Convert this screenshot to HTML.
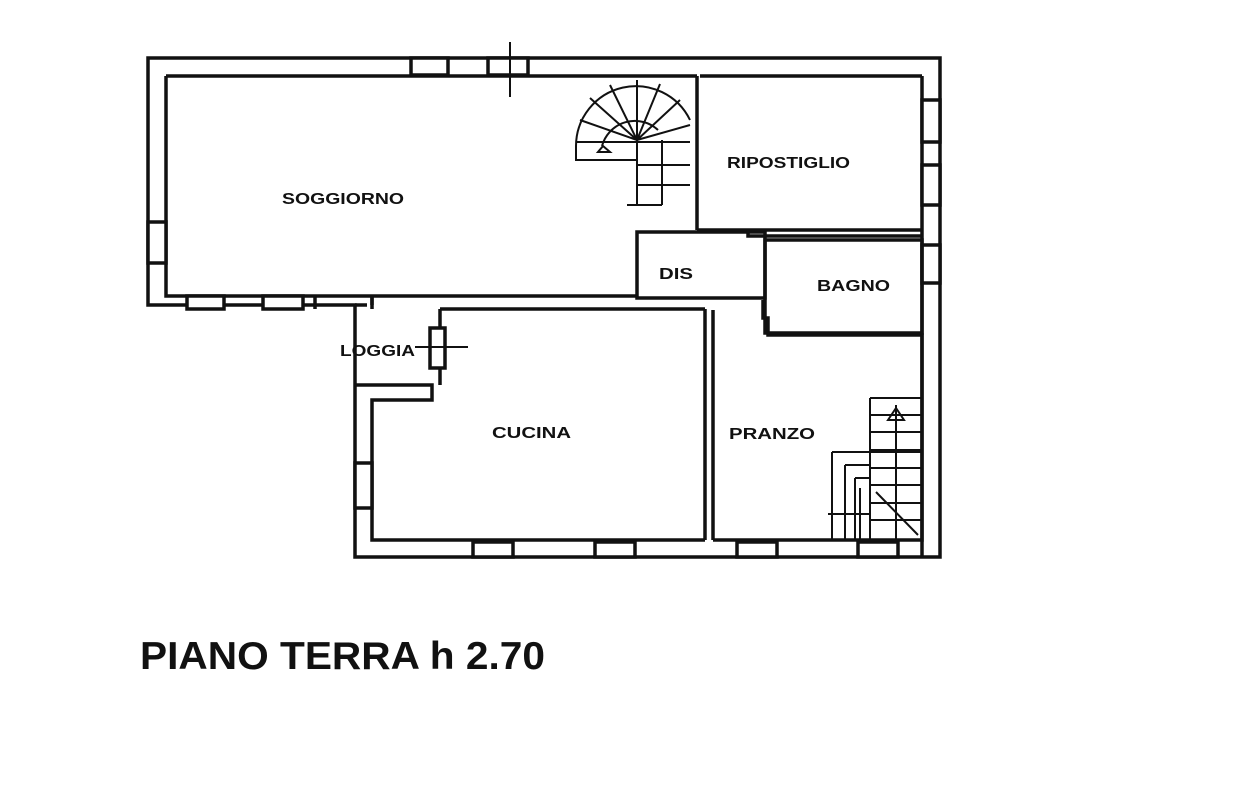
<!DOCTYPE html>
<html><head><meta charset="utf-8"><style>
html,body{margin:0;padding:0;background:#fff;width:1250px;height:796px;overflow:hidden}
svg{position:absolute;left:0;top:0}
text{font-family:"Liberation Sans",sans-serif;font-weight:bold;fill:#111}
</style></head><body>
<svg width="1250" height="796" viewBox="0 0 1250 796" stroke="#111" fill="none" stroke-width="3.5">
<path d="M148 58 H940 V557 H355 V305 H148 Z"/>
<path d="M166 76 H697 M166 76 V296 H637"/>
<path d="M355 305 H367 M372 296 V305"/>
<rect x="411" y="58" width="37" height="17" fill="#fff"/>
<rect x="488" y="58" width="40" height="17" fill="#fff"/>
<path d="M510 42 V97" stroke-width="2"/>
<rect x="148" y="222" width="18" height="41" fill="#fff"/>
<rect x="187" y="296" width="37" height="13" fill="#fff"/>
<rect x="263" y="296" width="40" height="13" fill="#fff"/>
<path d="M315 296 V309 M372 296 V309"/>
<path d="M355 385 H432 V400 H372 V540 H705 M440 309 H705 M440 309 V385"/>
<rect x="430" y="328" width="15" height="40" fill="#fff"/>
<path d="M415 347 H468" stroke-width="2"/>
<rect x="355" y="463" width="17" height="45" fill="#fff"/>
<path d="M705 309 V540 M713 310 V540"/>
<rect x="473" y="542" width="40" height="15" fill="#fff"/>
<rect x="595" y="542" width="40" height="15" fill="#fff"/>
<rect x="737" y="542" width="40" height="15" fill="#fff"/>
<rect x="858" y="542" width="40" height="15" fill="#fff"/>
<path d="M713 540 H922 V335 H768 V318 H763 V300"/>
<path d="M637 232 H765 V298 H637 Z"/>
<path d="M697 76 V230 M697 230 H922 M922 76 V557"/>
<path d="M700 76 H922 M748 230 V236 H922"/>
<rect x="922" y="100" width="18" height="42" fill="#fff"/>
<rect x="922" y="165" width="18" height="40" fill="#fff"/>
<rect x="922" y="245" width="18" height="38" fill="#fff"/>
<rect x="765" y="240" width="157" height="93"/>
<g stroke-width="2">
<path d="M576 146 A60 60 0 0 1 690 120 M602 146 A34 34 0 0 1 658 130 M576 146 V160 H637 M576 142 H690 M637 140 V205 M637 165 H690 M637 185 H690 M627 205 H662 M662 140 V205"/>
<path d="M637 140 L580 120 M637 140 L590 98 M637 140 L610 85 M637 140 L637 80 M637 140 L660 84 M637 140 L680 100 M637 140 L690 125"/>
<path d="M603 146 L610 152 L598 152 Z"/>
</g>
<g stroke-width="2">
<path d="M870 398 H922 M870 398 V540 M870 415 H922 M870 432 H922 M870 450 H922 M870 468 H922 M870 485 H922 M870 503 H922 M870 520 H922 M896 405 V540"/>
<path d="M832 452 H922 M845 465 V540 M855 478 V540 M860 488 V540 M832 452 V540 M845 465 H870 M855 478 H870 M828 514 H870 M876 492 L918 535"/>
<path d="M888 420 L896 408 L904 420 Z"/>
</g>
</svg>
<svg width="1250" height="796" style="pointer-events:none">
<text x="282" y="204" font-size="16" textLength="122" lengthAdjust="spacingAndGlyphs">SOGGIORNO</text>
<text x="727" y="168" font-size="16" textLength="123" lengthAdjust="spacingAndGlyphs">RIPOSTIGLIO</text>
<text x="659" y="279" font-size="16" textLength="34" lengthAdjust="spacingAndGlyphs">DIS</text>
<text x="817" y="291" font-size="16" textLength="73" lengthAdjust="spacingAndGlyphs">BAGNO</text>
<text x="340" y="356" font-size="16" textLength="75" lengthAdjust="spacingAndGlyphs">LOGGIA</text>
<text x="492" y="438" font-size="16" textLength="79" lengthAdjust="spacingAndGlyphs">CUCINA</text>
<text x="729" y="439" font-size="16" textLength="86" lengthAdjust="spacingAndGlyphs">PRANZO</text>
<text x="140" y="669" font-size="39" textLength="405" lengthAdjust="spacingAndGlyphs">PIANO TERRA h 2.70</text>
</svg>
</body></html>
